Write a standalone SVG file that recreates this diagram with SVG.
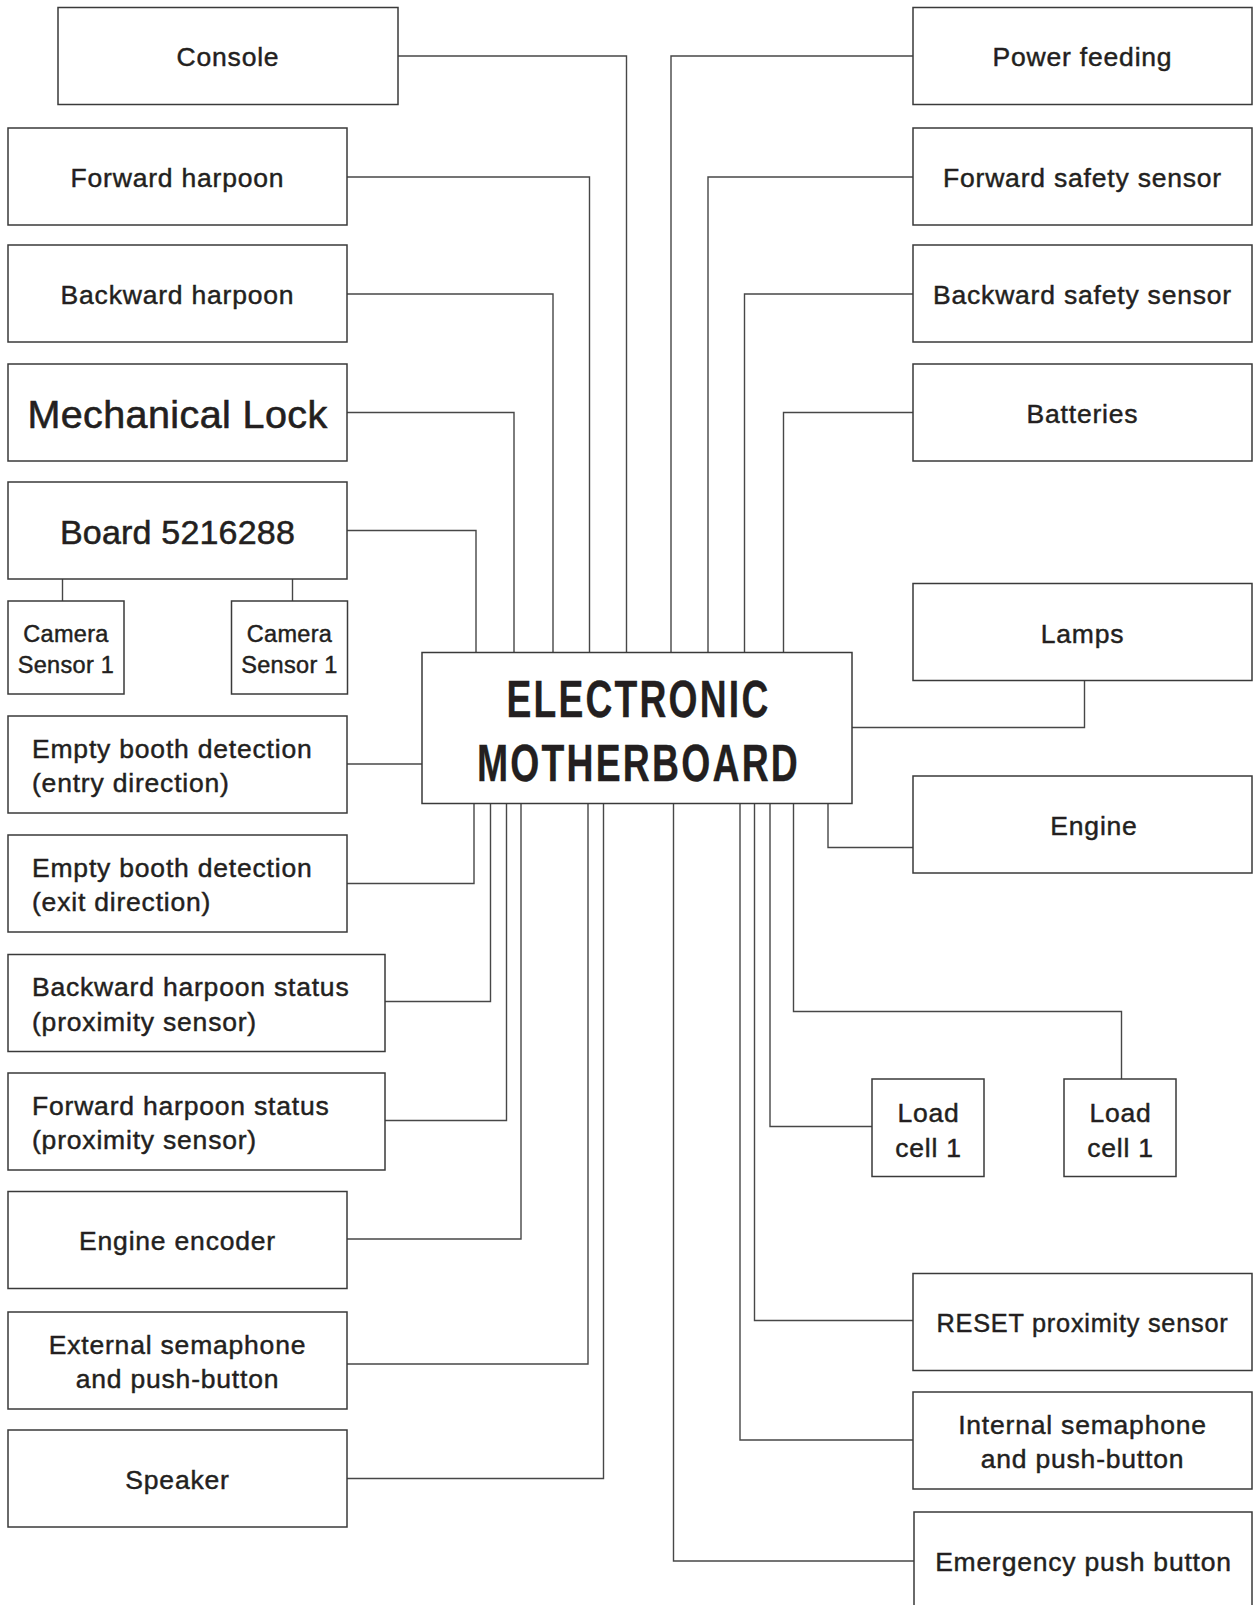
<svg xmlns="http://www.w3.org/2000/svg" width="1253" height="1605" viewBox="0 0 1253 1605">
<style>
rect.b{fill:#fff;stroke:#3a3a3a;stroke-width:1.5}
#connectors path{fill:none;stroke:#474747;stroke-width:1.4}
text{font-family:"Liberation Sans",Arial,sans-serif;font-size:26.5px;fill:#231f20;stroke:#231f20;stroke-width:0.45px;letter-spacing:0.8px}
text.c{text-anchor:middle}
text.cam{font-size:23.5px;letter-spacing:0.3px;text-anchor:middle}
text.big{font-size:39.5px;letter-spacing:0.4px;text-anchor:middle;stroke-width:0.6px}
text.brd{font-size:34px;letter-spacing:0.2px;text-anchor:middle;stroke-width:0.55px}
text.mb{font-family:"Liberation Sans Narrow","Liberation Sans",Arial,sans-serif;font-weight:bold;font-size:51px;letter-spacing:3px;text-anchor:middle;stroke-width:0.3px}
</style>
<rect width="1253" height="1605" fill="#fff"/>
<g id="connectors">
<path d="M398,56 H626.5 V652.5"/>
<path d="M347,177 H589.5 V652.5"/>
<path d="M347,294 H553 V652.5"/>
<path d="M347,412.5 H514 V652.5"/>
<path d="M347,530.5 H476 V652.5"/>
<path d="M913,56 H671 V652.5"/>
<path d="M913,177 H708 V652.5"/>
<path d="M913,294 H744.5 V652.5"/>
<path d="M913,412.5 H783.5 V652.5"/>
<path d="M62.5,579 V601"/>
<path d="M292.5,579 V601"/>
<path d="M347,764 H422"/>
<path d="M347,883.5 H474 V803.5"/>
<path d="M385,1001.5 H490.5 V803.5"/>
<path d="M385,1120.5 H506.5 V803.5"/>
<path d="M347,1239 H521 V803.5"/>
<path d="M347,1364 H588 V803.5"/>
<path d="M347,1478.5 H603.5 V803.5"/>
<path d="M852,727.5 H1084.5 V680.5"/>
<path d="M828,803.5 V847.5 H913"/>
<path d="M793.5,803.5 V1011.5 H1121.5 V1079"/>
<path d="M770,803.5 V1126.5 H872"/>
<path d="M754.5,803.5 V1320.5 H913"/>
<path d="M740,803.5 V1440 H913"/>
<path d="M673.5,803.5 V1561 H914"/>
</g>
<g id="motherboard"><rect class="b" x="422" y="652.5" width="430" height="151"/><text class="mb" x="638.5" y="716.5" textLength="264" lengthAdjust="spacingAndGlyphs">ELECTRONIC</text><text class="mb" x="638.5" y="781" textLength="323" lengthAdjust="spacingAndGlyphs">MOTHERBOARD</text></g>
<g id="console"><rect class="b" x="58" y="7.5" width="340" height="97"/><text class="c" x="228" y="66">Console</text></g>
<g id="forward-harpoon"><rect class="b" x="8" y="128" width="339" height="97"/><text class="c" x="177.5" y="187">Forward harpoon</text></g>
<g id="backward-harpoon"><rect class="b" x="8" y="245" width="339" height="97"/><text class="c" x="177.5" y="304">Backward harpoon</text></g>
<g id="mechanical-lock"><rect class="b" x="8" y="364" width="339" height="97"/><text class="big" x="177.5" y="428">Mechanical Lock</text></g>
<g id="board"><rect class="b" x="8" y="482" width="339" height="97"/><text class="brd" x="177.5" y="544">Board 5216288</text></g>
<g id="camera-1"><rect class="b" x="8" y="601" width="116" height="93"/><text class="cam" x="66" y="642">Camera</text><text class="cam" x="66" y="673">Sensor 1</text></g>
<g id="camera-2"><rect class="b" x="231.5" y="601" width="116" height="93"/><text class="cam" x="289.5" y="642">Camera</text><text class="cam" x="289.5" y="673">Sensor 1</text></g>
<g id="empty-entry"><rect class="b" x="8" y="716" width="339" height="97"/><text x="32" y="757.5">Empty booth detection</text><text x="32" y="792">(entry direction)</text></g>
<g id="empty-exit"><rect class="b" x="8" y="835" width="339" height="97"/><text x="32" y="876.5">Empty booth detection</text><text x="32" y="911">(exit direction)</text></g>
<g id="backward-status"><rect class="b" x="8" y="954.5" width="377" height="97"/><text x="32" y="996">Backward harpoon status</text><text x="32" y="1030.5">(proximity sensor)</text></g>
<g id="forward-status"><rect class="b" x="8" y="1073" width="377" height="97"/><text x="32" y="1114.5">Forward harpoon status</text><text x="32" y="1149">(proximity sensor)</text></g>
<g id="engine-encoder"><rect class="b" x="8" y="1191.5" width="339" height="97"/><text class="c" x="177.5" y="1250">Engine encoder</text></g>
<g id="external-semaphone"><rect class="b" x="8" y="1312" width="339" height="97"/><text class="c" x="177.5" y="1353.5">External semaphone</text><text class="c" x="177.5" y="1388">and push-button</text></g>
<g id="speaker"><rect class="b" x="8" y="1430" width="339" height="97"/><text class="c" x="177.5" y="1488.5">Speaker</text></g>
<g id="power-feeding"><rect class="b" x="913" y="7.5" width="339" height="97"/><text class="c" x="1082.5" y="66">Power feeding</text></g>
<g id="forward-safety"><rect class="b" x="913" y="128" width="339" height="97"/><text class="c" x="1082.5" y="187">Forward safety sensor</text></g>
<g id="backward-safety"><rect class="b" x="913" y="245" width="339" height="97"/><text class="c" x="1082.5" y="304">Backward safety sensor</text></g>
<g id="batteries"><rect class="b" x="913" y="364" width="339" height="97"/><text class="c" x="1082.5" y="422.5">Batteries</text></g>
<g id="lamps"><rect class="b" x="913" y="583.5" width="339" height="97"/><text class="c" x="1082.5" y="642.5">Lamps</text></g>
<g id="engine"><rect class="b" x="913" y="776" width="339" height="97"/><text class="c" x="1094" y="835">Engine</text></g>
<g id="load-cell-1"><rect class="b" x="872" y="1079" width="112" height="97.5"/><text class="c" x="928.5" y="1122">Load</text><text class="c" x="928.5" y="1157">cell 1</text></g>
<g id="load-cell-2"><rect class="b" x="1064" y="1079" width="112" height="97.5"/><text class="c" x="1120.5" y="1122">Load</text><text class="c" x="1120.5" y="1157">cell 1</text></g>
<g id="reset"><rect class="b" x="913" y="1273.5" width="339" height="97"/><text class="c" x="1082.5" y="1332" textLength="292" lengthAdjust="spacingAndGlyphs">RESET proximity sensor</text></g>
<g id="internal-semaphone"><rect class="b" x="913" y="1392" width="339" height="97"/><text class="c" x="1082.5" y="1433.5">Internal semaphone</text><text class="c" x="1082.5" y="1468">and push-button</text></g>
<g id="emergency"><rect class="b" x="914" y="1512" width="338" height="97"/><text class="c" x="1083.5" y="1571">Emergency push button</text></g>
</svg>
